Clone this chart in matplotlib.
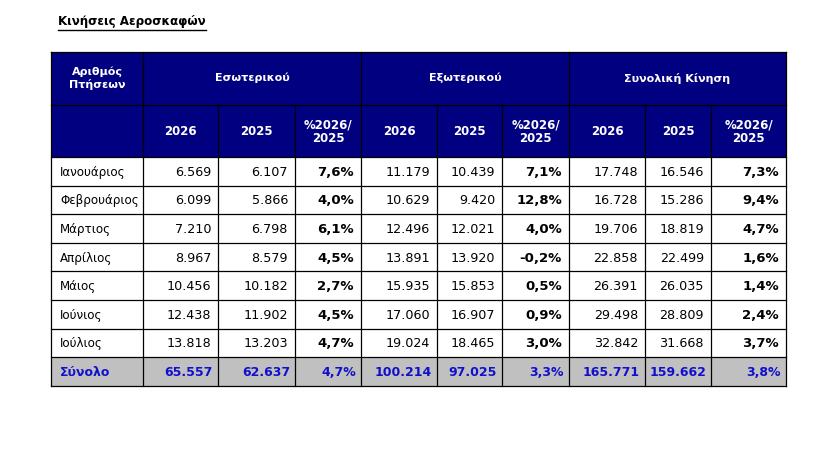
import matplotlib
matplotlib.use("Agg")
from matplotlib import pyplot as plt
from matplotlib.patches import Rectangle

# table data
months = ["Ιανουάριος", "Φεβρουάριος", "Μάρτιος", "Απρίλιος", "Μάιος", "Ιούνιος", "Ιούλιος"]
dom_2026 = ["6.569", "6.099", "7.210", "8.967", "10.456", "12.438", "13.818"]
dom_2025 = ["6.107", "5.866", "6.798", "8.579", "10.182", "11.902", "13.203"]
dom_pct = ["7,6%", "4,0%", "6,1%", "4,5%", "2,7%", "4,5%", "4,7%"]
int_2026 = ["11.179", "10.629", "12.496", "13.891", "15.935", "17.060", "19.024"]
int_2025 = ["10.439", "9.420", "12.021", "13.920", "15.853", "16.907", "18.465"]
int_pct = ["7,1%", "12,8%", "4,0%", "-0,2%", "0,5%", "0,9%", "3,0%"]
tot_2026 = ["17.748", "16.728", "19.706", "22.858", "26.391", "29.498", "32.842"]
tot_2025 = ["16.546", "15.286", "18.819", "22.499", "26.035", "28.809", "31.668"]
tot_pct = ["7,3%", "9,4%", "4,7%", "1,6%", "1,4%", "2,4%", "3,7%"]
total_row = ["Σύνολο", "65.557", "62.637", "4,7%", "100.214", "97.025", "3,3%",
             "165.771", "159.662", "3,8%"]

title = "Κινήσεις Αεροσκαφών"
corner = "Αριθμός\nΠτήσεων"
groups = ["Εσωτερικού", "Εξωτερικού", "Συνολική Κίνηση"]
sub_heads = ["2026", "2025", "%2026/\n2025"]

# layout in pixels
W, H = 835, 453
col_x = [51, 143, 218, 295, 361, 437, 502, 569, 645, 711, 786]
head_y = [52, 105, 157]
row_h = 28.6
navy = "#000080"
grey = "#c0c0c0"
blue = "#1010cc"

fig = plt.figure(figsize=(W / 100, H / 100), dpi=100)
ax = fig.add_axes([0, 0, 1, 1])
ax.set_xlim(0, W)
ax.set_ylim(H, 0)
ax.axis("off")

# title
ax.text(58, 21.5, title, fontsize=8.6, fontweight="bold", va="center", ha="left")
ax.plot([58, 206], [29.5, 29.5], color="black", lw=1)

# header background
ax.add_patch(Rectangle((col_x[0], head_y[0]), col_x[-1] - col_x[0], head_y[2] - head_y[0],
                       facecolor=navy, edgecolor="none"))
ax.text((col_x[0] + col_x[1]) / 2, 78.5, corner, color="white", fontsize=8, fontweight="bold",
        ha="center", va="center", linespacing=1.25)
for g, name in enumerate(groups):
    x0, x1 = col_x[1 + 3 * g], col_x[4 + 3 * g]
    ax.text((x0 + x1) / 2, 78, name, color="white", fontsize=8, fontweight="bold",
            ha="center", va="center")
    for k, sh in enumerate(sub_heads):
        c0, c1 = col_x[1 + 3 * g + k], col_x[2 + 3 * g + k]
        ax.text((c0 + c1) / 2, 131.5, sh, color="white", fontsize=8.5, fontweight="bold",
                ha="center", va="center", linespacing=1.05)

# body rows
cols = [dom_2026, dom_2025, dom_pct, int_2026, int_2025, int_pct, tot_2026, tot_2025, tot_pct]
n = len(months)
y_top = head_y[2]
ax.add_patch(Rectangle((col_x[0], y_top + n * row_h), col_x[-1] - col_x[0], row_h,
                       facecolor=grey, edgecolor="none"))
for i in range(n):
    yc = y_top + (i + 0.5) * row_h + 1
    ax.text(col_x[0] + 9, yc, months[i], fontsize=8.6, ha="left", va="center")
    for j, col in enumerate(cols):
        bold = (j % 3 == 2)
        ax.text(col_x[j + 2] - 7, yc, col[i], fontsize=9.5 if bold else 9.2,
                fontweight="bold" if bold else "normal", ha="right", va="center")
yc = y_top + (n + 0.5) * row_h + 1
ax.text(col_x[0] + 9, yc, total_row[0], fontsize=9, fontweight="bold", color=blue,
        ha="left", va="center")
for j, v in enumerate(total_row[1:]):
    ax.text(col_x[j + 2] - 5, yc, v, fontsize=9, fontweight="bold", color=blue,
            ha="right", va="center")

# grid lines
y_bot = y_top + (n + 1) * row_h
for y in head_y + [y_top + (i + 1) * row_h for i in range(n + 1)]:
    ax.plot([col_x[0], col_x[-1]], [y, y], color="black", lw=0.9)
for k, x in enumerate(col_x):
    if k in (0, 1, 4, 7, 10):
        ax.plot([x, x], [head_y[0], y_bot], color="black", lw=0.9)
    else:
        ax.plot([x, x], [head_y[1], y_bot], color="black", lw=0.9)

fig.savefig("out.png", dpi=100)
